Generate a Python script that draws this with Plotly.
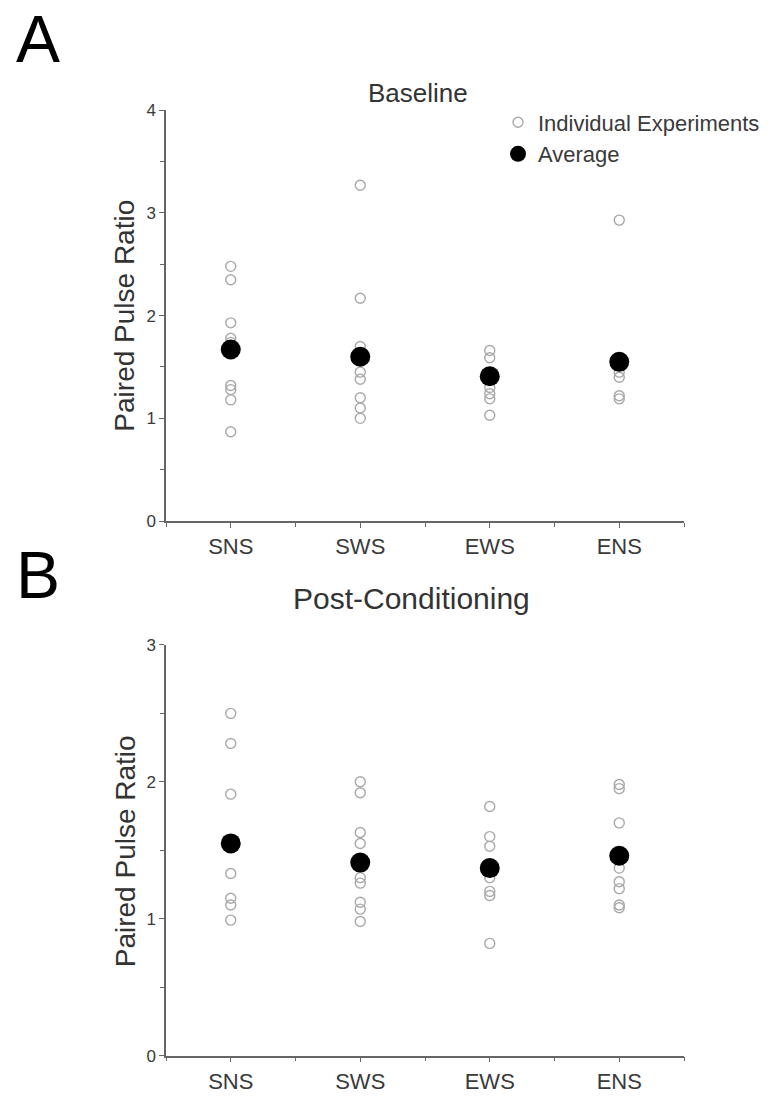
import plotly.graph_objects as go

categories = ["SNS", "SWS", "EWS", "ENS"]

# Panel A: Baseline individual experiments
base_sns = [2.48, 2.35, 1.93, 1.78, 1.74, 1.32, 1.28, 1.18, 0.87]
base_sws = [3.27, 2.17, 1.70, 1.45, 1.38, 1.20, 1.10, 1.00]
base_ews = [1.66, 1.59, 1.45, 1.30, 1.24, 1.19, 1.03]
base_ens = [2.93, 1.45, 1.40, 1.22, 1.19]
base_avg = [1.67, 1.60, 1.41, 1.55]

# Panel B: Post-conditioning individual experiments
post_sns = [2.50, 2.28, 1.91, 1.33, 1.15, 1.10, 0.99]
post_sws = [2.00, 1.92, 1.63, 1.55, 1.30, 1.26, 1.12, 1.07, 0.98]
post_ews = [1.82, 1.60, 1.53, 1.30, 1.20, 1.17, 0.82]
post_ens = [1.98, 1.95, 1.70, 1.37, 1.27, 1.22, 1.10, 1.08]
post_avg = [1.55, 1.41, 1.37, 1.46]

W, H = 783, 1105
FONT = "Liberation Sans, Arial, sans-serif"
AX = "#666666"
TXT = "#3a3a3a"

fig = go.Figure()

def add_panel(groups, avg, xa, ya, show):
    for i, vals in enumerate(groups):
        fig.add_trace(go.Scatter(
            x=[i + 1] * len(vals), y=vals, mode="markers",
            marker=dict(symbol="circle-open", size=10, color="#a8a8a8",
                        line=dict(width=1.4, color="#a8a8a8")),
            name="Individual Experiments", legendgroup="ind",
            showlegend=(show and i == 0), xaxis=xa, yaxis=ya))
    fig.add_trace(go.Scatter(
        x=list(range(1, len(avg) + 1)), y=avg, mode="markers",
        marker=dict(symbol="circle", size=20, color="black"),
        name="Average", legendgroup="avg", showlegend=show,
        xaxis=xa, yaxis=ya))

add_panel([base_sns, base_sws, base_ews, base_ens], base_avg, "x", "y", True)
add_panel([post_sns, post_sws, post_ews, post_ens], post_avg, "x2", "y2", False)

xdom = [166 / W, 684 / W]
xcommon = dict(range=[0.5, 4.5], tickmode="array", tickvals=[1, 2, 3, 4],
               ticktext=categories, showline=True, linecolor=AX, linewidth=1.5,
               ticks="outside", ticklen=5, tickcolor=AX, tickwidth=1.2,
               showgrid=False, zeroline=False,
               tickfont=dict(family=FONT, size=22, color=TXT),
               minor=dict(tickmode="linear", tick0=0.5, dtick=0.5, ticks="outside",
                          ticklen=4, tickcolor=AX, showgrid=False),
               domain=xdom)
ycommon = dict(showline=True, linecolor=AX, linewidth=1.5, ticks="outside",
               ticklen=5, tickcolor=AX, tickwidth=1.2, showgrid=False,
               zeroline=False, dtick=1,
               tickfont=dict(family=FONT, size=17, color=TXT),
               minor=dict(dtick=0.5, ticks="outside", ticklen=4, tickcolor=AX,
                          showgrid=False))

fig.update_layout(
    width=W, height=H, margin=dict(l=0, r=0, t=0, b=0),
    paper_bgcolor="white", plot_bgcolor="white",
    xaxis=dict(**xcommon, anchor="y"),
    yaxis=dict(**ycommon, range=[0, 4], domain=[1 - 521 / H, 1 - 103 / H], anchor="x"),
    xaxis2=dict(**xcommon, anchor="y2"),
    yaxis2=dict(**ycommon, range=[0, 3], domain=[1 - 1065 / H, 1 - 647 / H], anchor="x2"),
    legend=dict(x=498 / W, y=1 - 94 / H, xanchor="left", yanchor="top",
                bgcolor="rgba(0,0,0,0)", tracegroupgap=0, itemwidth=30,
                font=dict(family=FONT, size=22, color=TXT)),
    annotations=[
        dict(text="A", x=14 / W, y=1 - 31 / H, xref="paper", yref="paper",
             xanchor="left", yanchor="middle", showarrow=False,
             font=dict(family=FONT, size=66, color="black")),
        dict(text="B", x=14 / W, y=1 - 576 / H, xref="paper", yref="paper",
             xanchor="left", yanchor="middle", showarrow=False,
             font=dict(family=FONT, size=66, color="black")),
        dict(text="Baseline", x=418 / W, y=1 - 85 / H, xref="paper", yref="paper",
             xanchor="center", yanchor="middle", showarrow=False,
             font=dict(family=FONT, size=26, color="#333333")),
        dict(text="Post-Conditioning", x=411 / W, y=1 - 600 / H, xref="paper", yref="paper",
             xanchor="center", yanchor="middle", showarrow=False,
             font=dict(family=FONT, size=30, color="#333333")),
        dict(text="Paired Pulse Ratio", x=125 / W, y=1 - 312 / H, xref="paper", yref="paper",
             xanchor="center", yanchor="middle", showarrow=False, textangle=-90,
             font=dict(family=FONT, size=28, color="#333333")),
        dict(text="Paired Pulse Ratio", x=125 / W, y=1 - 857 / H, xref="paper", yref="paper",
             xanchor="center", yanchor="middle", showarrow=False, textangle=-90,
             font=dict(family=FONT, size=28, color="#333333")),
    ],
)

fig.write_html("out.html")
